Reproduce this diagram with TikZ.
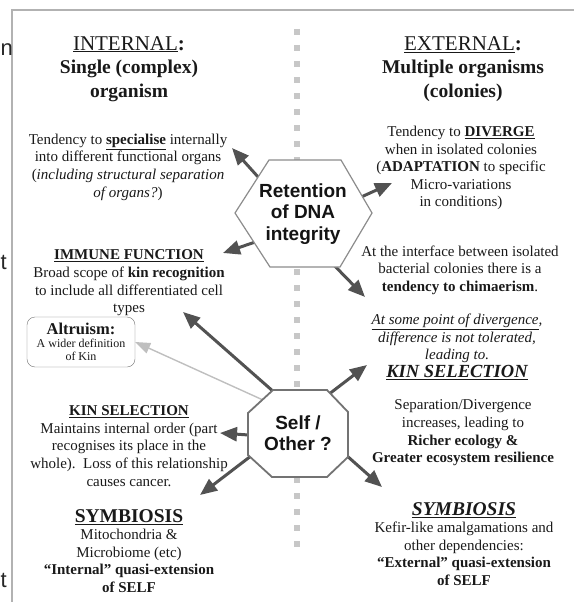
\documentclass[tikz,border=0pt]{standalone}
\usepackage{fontspec}
\setmainfont{Liberation Serif}
\setsansfont{Liberation Sans}
\usetikzlibrary{arrows.meta, backgrounds}

\begin{document}
\begin{tikzpicture}[x=1pt, y=-1pt,
        txt/.style={align=center, inner sep=0pt, text=black!90, font=\fontsize{15}{17.6}\selectfont},
        head/.style={align=center, inner sep=0pt, text=black!90, font=\fontsize{19.5}{23.5}\selectfont\bfseries},
        hexlabel/.style={align=center, inner sep=0pt, text=black!92, font=\fontsize{19}{21.5}\selectfont\sffamily\bfseries},
        kinbox/.style={rectangle, draw=black!55, rounded corners=8pt, align=center, minimum width=108pt, minimum height=50pt, inner sep=2pt, text=black!90, font=\fontsize{12}{13}\selectfont},
        hexa/.style={draw=black!45, line width=1.2pt, fill=white},
        octa/.style={draw=black!55, line width=1.8pt, fill=white},
        rel/.style={-{Triangle[length=17pt, width=14pt]}, line width=3pt, draw=black!68, fill=black!68},
        faint/.style={-{Triangle[length=15pt, width=11pt]}, line width=1.4pt, draw=black!25, fill=black!25},
        divider/.style={draw=black!22, line width=6pt, dash pattern=on 6pt off 10pt},
        stray/.style={inner sep=0pt, text=black!85, font=\fontsize{22}{22}\selectfont\sffamily}
    ]

        \useasboundingbox (0,0) rectangle (574,602);

        % ----------------------------------------------------
        % FRAME AND CENTRAL HEXAGON / OCTAGON
        % ----------------------------------------------------
        \draw[black!30, line width=1.3pt] (12,602) -- (12,10) -- (574,10);

        \draw[hexa] (235,213) -- (269,160) -- (341,160) -- (372,213) -- (340,267) -- (270,267) -- cycle;
        \draw[octa] (273,390) -- (327,390) -- (348,412) -- (348,457) -- (327,477) -- (272,477) -- (248,455) -- (248,413) -- cycle;

        \node[hexlabel] (dna) at (303,214) {Retention\\of DNA\\integrity};
        \node[hexlabel] (self) at (298,433) {Self /\\Other ?};

        % stray letters on the left edge
        \node[stray, anchor=base west] (edge-n) at (0.5,56) {n};
        \node[stray, anchor=base west] (edge-t) at (0.5,269) {t};
        \node[stray, anchor=base west] (edge-tt) at (0.5,587) {t};

        % ----------------------------------------------------
        % INTERNAL COLUMN
        % ----------------------------------------------------
        \node[head] (internal) at (129,69) {{\fontsize{21}{23.5}\selectfont\mdseries\underline{INTERNAL}\textbf{:}}\\Single (complex)\\organism};

        \node[txt] (specialise) at (128,167) {Tendency to \textbf{\underline{specialise}} internally\\into different functional organs\\(\textit{including structural separation}\\\textit{of organs?})};

        \node[txt] (immune) at (129,283) {\textbf{\underline{IMMUNE FUNCTION}}\\Broad scope of \textbf{kin recognition}\\to include all differentiated cell\\types};

        \node[kinbox] (altruism) at (81,342) {{\fontsize{16.5}{17}\selectfont\bfseries Altruism:}\\A wider definition\\of Kin};

        \node[txt] (kinleft) at (129,446) {\textbf{\underline{KIN SELECTION}}\\Maintains internal order (part\\recognises its place in the\\whole).\ \ Loss of this relationship\\causes cancer.};

        \node[txt] (symbleft) at (129,551) {{\fontsize{19.5}{20}\selectfont\bfseries\underline{SYMBIOSIS}}\\Mitochondria \&\\Microbiome (etc)\\\textbf{“Internal” quasi-extension}\\\textbf{of SELF}};

        % ----------------------------------------------------
        % EXTERNAL COLUMN
        % ----------------------------------------------------
        \node[head] (external) at (463,69) {{\fontsize{21}{23.5}\selectfont\mdseries\underline{EXTERNAL}\textbf{:}}\\Multiple organisms\\(colonies)};

        \node[txt] (diverge) at (461,168) {Tendency to \textbf{\underline{DIVERGE}}\\when in isolated colonies\\(\textbf{ADAPTATION} to specific\\Micro-variations\\in conditions)};

        \node[txt] (interface) at (460,270) {At the interface between isolated\\bacterial colonies there is a\\\textbf{tendency to chimaerism}.};

        \node[txt] (divergence) at (457,347) {\textit{\underline{At some point of divergence},}\\\textit{difference is not tolerated,}\\\textit{leading to.}\\{\fontsize{18.5}{17.6}\selectfont\bfseries\itshape\underline{KIN SELECTION}}};

        \node[txt] (separation) at (463,433) {Separation/Divergence\\increases, leading to\\\textbf{Richer ecology \&}\\\textbf{Greater ecosystem resilience}};

        \node[txt] (symbright) at (464,544) {{\fontsize{19.5}{20}\selectfont\bfseries\itshape\underline{SYMBIOSIS}}\\Kefir-like amalgamations and\\other dependencies:\\\textbf{“External” quasi-extension}\\\textbf{of SELF}};

        % arrow tips
        \coordinate (specialise-tip) at (232,148);
        \coordinate (diverge-tip) at (392,183);
        \coordinate (immune-tip) at (223,253);
        \coordinate (interface-tip) at (365,297);
        \coordinate (types-tip) at (183,312);
        \coordinate (divergence-tip) at (367,365);
        \coordinate (kinleft-tip) at (220,433);
        \coordinate (symbleft-tip) at (200,495);
        \coordinate (symbright-tip) at (382,487);

        % ----------------------------------------------------
        % ARROWS (behind the shapes, so they start at the border)
        % ----------------------------------------------------
        \begin{scope}[on background layer]
            \draw[divider] (297,29) -- (297,556);

            \draw[rel] ([shift={(-35,-26)}]dna.center) -- (specialise-tip);
            \draw[rel] ([shift={(45,-11)}]dna.center) -- (diverge-tip);
            \draw[rel] ([shift={(-36,24)}]dna.center) -- (immune-tip);
            \draw[rel] ([shift={(23,43)}]dna.center) -- (interface-tip);

            \draw[rel] ([shift={(-15,-33)}]self.center) -- (types-tip);
            \draw[faint] ([shift={(-24,-28)}]self.center) -- (altruism.east);
            \draw[rel] ([shift={(22,-32)}]self.center) -- (divergence-tip);
            \draw[rel] ([shift={(-35,3)}]self.center) -- (kinleft-tip);
            \draw[rel] ([shift={(-34,13)}]self.center) -- (symbleft-tip);
            \draw[rel] ([shift={(39,14)}]self.center) -- (symbright-tip);
        \end{scope}

    \end{tikzpicture}
\end{document}
